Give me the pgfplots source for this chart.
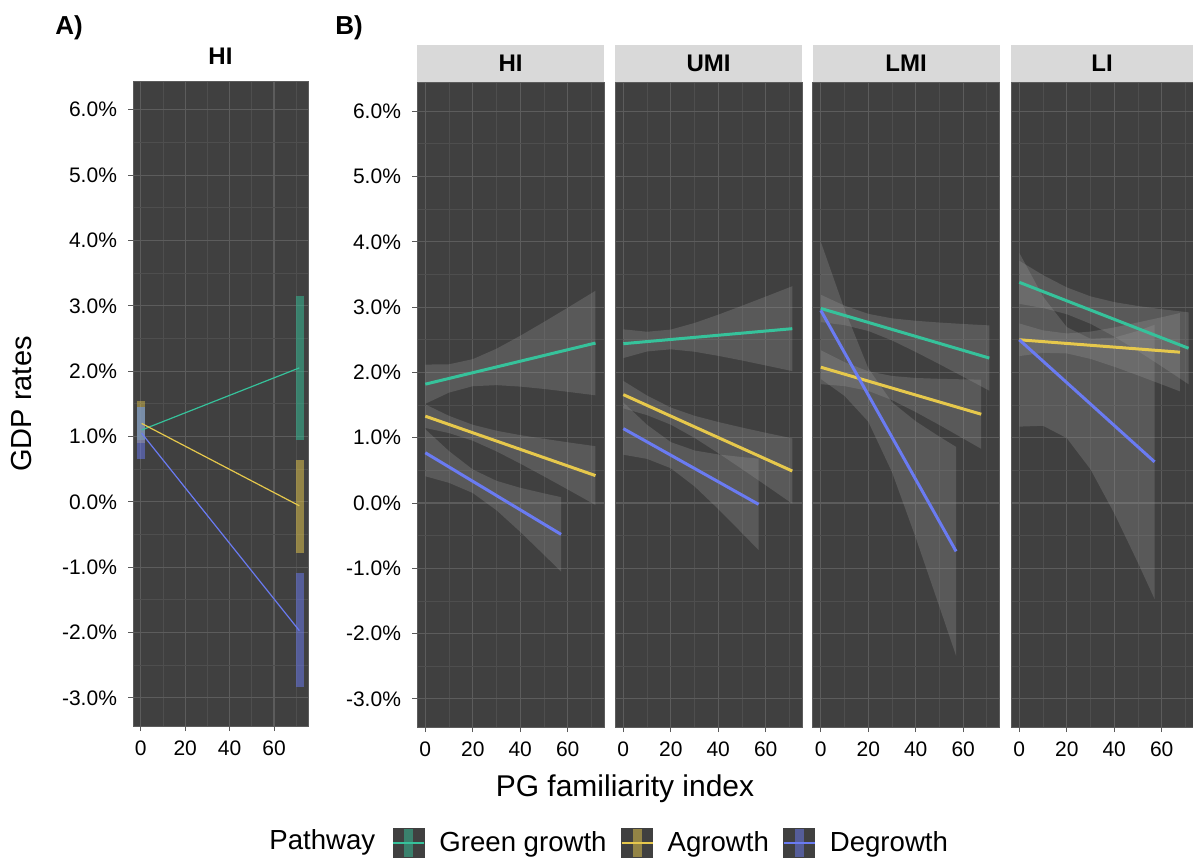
\documentclass[border=0pt]{standalone}
\usepackage{fontspec}
\setmainfont{Liberation Sans}
\usepackage{pgfplots}
\pgfplotsset{compat=1.18}
\definecolor{panelbg}{HTML}{404040}
\definecolor{gridmaj}{HTML}{5C5C5C}
\definecolor{gridmin}{HTML}{4E4E4E}
\definecolor{strip}{HTML}{D9D9D9}
\definecolor{cgreen}{HTML}{36C29B}
\definecolor{cyellow}{HTML}{E6C84C}
\definecolor{cblue}{HTML}{6A7BF2}
\definecolor{ribbon}{HTML}{9A9A9A}
\newcommand{\ticksize}{\fontsize{10.5}{12}\selectfont}
\newcommand{\stripfont}{\fontsize{12}{14}\selectfont\bfseries}
\newcommand{\legfont}{\fontsize{13.8}{16}\selectfont}
\pgfplotsset{
  panel/.style={
    scale only axis,
    xmin=-3.5, xmax=75.3, ymin=-3.43, ymax=6.44,
    axis background/.style={fill=panelbg},
    xtick={0,20,40,60}, xticklabels={0,20,40,60},
    minor xtick={10,30,50,70},
    ytick={-3,-2,-1,0,1,2,3,4,5,6},
    minor ytick={-2.5,-1.5,-0.5,0.5,1.5,2.5,3.5,4.5,5.5},
    xtick pos=bottom, ytick pos=left,
    grid=both,
    major grid style={draw=gridmaj, line width=0.55pt},
    minor grid style={draw=gridmin, line width=0.45pt},
    axis line style={draw=gridmaj, line width=0.4pt},
    tick align=outside, major tick length=2.5pt, minor tick length=0pt,
    tick style={color=black!65, line width=0.5pt},
    xticklabel style={font=\ticksize, text=black, yshift=-1.5pt},
    yticklabel style={font=\ticksize, text=black, xshift=-2pt},
    every axis title shift=0pt,
  },
  ylab/.style={yticklabels={-3.0\%,-2.0\%,-1.0\%,0.0\%,1.0\%,2.0\%,3.0\%,4.0\%,5.0\%,6.0\%}},
  noylab/.style={yticklabels={}, ytick style={draw=none}},
  strip/.style={title={#1}, title style={at={(0.5,1)}, anchor=south, fill=strip, minimum width=93.5pt, minimum height=18.2pt, inner sep=0pt, font=\stripfont, yshift=0.2pt}},
  rib/.style={fill=ribbon, fill opacity=0.28, draw=none, forget plot},
  ln/.style={line width=1.5pt, forget plot},
  key/.style={legend image code/.code={
    \fill[panelbg] (0pt,-7.25pt) rectangle (15.5pt,7.25pt);
    \draw[#1, draw opacity=0.5, line width=4.5pt] (7.75pt,-7pt) -- (7.75pt,7pt);
    \draw[#1, line width=1pt] (0pt,0pt) -- (15.5pt,0pt);}},
}
\begin{document}
\begin{tikzpicture}
\path[use as bounding box] (0,0) rectangle (596.5pt,429pt);

% Panel labels and titles
\node[anchor=west, inner sep=0pt, font=\fontsize{13}{15}\selectfont\bfseries] at (27.5pt,415pt) {A)};
\node[anchor=west, inner sep=0pt, font=\fontsize{13}{15}\selectfont\bfseries] at (167.5pt,415pt) {B)};
\node[rotate=90, font=\fontsize{14.5}{17}\selectfont] at (11pt,227pt) {GDP rates};
\node[font=\fontsize{15}{18}\selectfont] at (312.5pt,34.5pt) {PG familiarity index};
\node[anchor=west, inner sep=0pt, font=\legfont] at (134.5pt,7.8pt) {Pathway};

% ---------- Panel A ----------
\begin{axis}[panel, ylab, at={(66.5pt,388.5pt)}, anchor=north west, width=87.5pt, height=322.5pt,
  title={HI}, title style={at={(0.5,1)}, anchor=south, minimum height=24pt, inner sep=0pt, font=\stripfont}]
\addplot[draw=cgreen, draw opacity=0.5, line width=3.8pt, forget plot] coordinates {(0,0.95) (0,1.45)};
\addplot[draw=cyellow, draw opacity=0.45, line width=3.8pt, forget plot] coordinates {(0,0.9) (0,1.55)};
\addplot[draw=cblue, draw opacity=0.5, line width=3.8pt, forget plot] coordinates {(0,0.65) (0,1.45)};
\addplot[draw=cgreen, draw opacity=0.5, line width=4pt, forget plot] coordinates {(71.6,0.95) (71.6,3.15)};
\addplot[draw=cyellow, draw opacity=0.5, line width=4pt, forget plot] coordinates {(71.6,-0.78) (71.6,0.64)};
\addplot[draw=cblue, draw opacity=0.5, line width=4pt, forget plot] coordinates {(71.6,-2.83) (71.6,-1.09)};
\addplot[draw=cgreen, line width=0.6pt, forget plot] coordinates {(0.4,1.10) (71.4,2.05)};
\addplot[draw=cyellow, line width=0.6pt, forget plot] coordinates {(0.4,1.20) (71.4,-0.06)};
\addplot[draw=cblue, line width=0.6pt, forget plot] coordinates {(0.4,1.05) (71.4,-1.97)};
\end{axis}

% ---------- Panel B: HI ----------
\begin{axis}[panel, ylab, strip={HI}, at={(208.5pt,387.75pt)}, anchor=north west, width=93.5pt, height=322.25pt,
  legend style={at={(-0.1337,-0.1795)}, anchor=west, draw=none, fill=none, inner xsep=0pt,
    font=\legfont, legend columns=3, nodes={inner xsep=0pt},
    /tikz/every odd column/.append style={column sep=7pt},
    /tikz/every even column/.append style={column sep=7pt}},
  legend cell align=left]
\addplot[rib] coordinates {(0,2.12)(10,2.125)(20,2.203)(30,2.363)(40,2.561)(50,2.773)(60,2.991)(71.7,3.25)
  (71.7,1.65)(60,1.703)(50,1.747)(40,1.783)(30,1.805)(20,1.789)(10,1.691)(0,1.52)} --cycle;
\addplot[rib] coordinates {(0,1.51)(10,1.335)(20,1.198)(30,1.107)(40,1.040)(50,0.984)(60,0.930)(71.7,0.87)
  (71.7,-0.03)(60,0.208)(50,0.408)(40,0.604)(30,0.791)(20,0.954)(10,1.071)(0,1.15)} --cycle;
\addplot[rib] coordinates {(0,1.13)(10,0.795)(20,0.514)(30,0.340)(40,0.233)(50,0.148)(57.2,0.09)
  (57.2,-1.05)(50,-0.793)(40,-0.441)(30,-0.111)(20,0.153)(10,0.309)(0,0.41)} --cycle;
\addplot[ln, draw=cgreen] coordinates {(0,1.82)(71.7,2.45)};
\addplot[ln, draw=cyellow] coordinates {(0,1.33)(71.7,0.42)};
\addplot[ln, draw=cblue] coordinates {(0,0.77)(57.2,-0.48)};
\addlegendimage{key=cgreen}
\addlegendentry{Green growth}
\addlegendimage{key=cyellow}
\addlegendentry{Agrowth}
\addlegendimage{key=cblue}
\addlegendentry{Degrowth}
\end{axis}

% ---------- Panel B: UMI ----------
\begin{axis}[panel, noylab, strip={UMI}, at={(307.5pt,387.75pt)}, anchor=north west, width=93.5pt, height=322.25pt]
\addplot[rib] coordinates {(0,2.66)(10,2.623)(20,2.656)(30,2.757)(40,2.884)(50,3.021)(60,3.161)(71.2,3.32)
  (71.2,2.02)(60,2.107)(50,2.183)(40,2.254)(30,2.317)(20,2.354)(10,2.321)(0,2.22)} --cycle;
\addplot[rib] coordinates {(0,1.87)(10,1.646)(20,1.462)(30,1.336)(40,1.241)(50,1.156)(60,1.076)(71.2,0.99)
  (71.2,-0.01)(60,0.272)(50,0.520)(40,0.765)(30,0.998)(20,1.200)(10,1.346)(0,1.45)} --cycle;
\addplot[rib] coordinates {(0,1.54)(10,1.198)(20,0.933)(30,0.805)(40,0.744)(50,0.704)(57,0.68)
  (57,-0.72)(50,-0.459)(40,-0.092)(30,0.255)(20,0.533)(10,0.676)(0,0.74)} --cycle;
\addplot[ln, draw=cgreen] coordinates {(0,2.44)(71.2,2.67)};
\addplot[ln, draw=cyellow] coordinates {(0,1.66)(71.2,0.49)};
\addplot[ln, draw=cblue] coordinates {(0,1.14)(57,-0.02)};
\end{axis}

% ---------- Panel B: LMI ----------
\begin{axis}[panel, noylab, strip={LMI}, at={(406.25pt,387.75pt)}, anchor=north west, width=93.5pt, height=322.25pt]
\addplot[rib] coordinates {(0,3.19)(10,3.022)(20,2.897)(30,2.828)(40,2.791)(50,2.764)(60,2.742)(71,2.72)
  (71,1.72)(60,1.934)(50,2.126)(40,2.313)(30,2.490)(20,2.635)(10,2.724)(0,2.77)} --cycle;
\addplot[rib] coordinates {(0,2.34)(10,2.158)(20,2.017)(30,1.946)(40,1.915)(50,1.902)(60,1.894)(67.6,1.89)
  (67.6,0.83)(60,0.988)(50,1.194)(40,1.393)(30,1.576)(20,1.717)(10,1.790)(0,1.82)} --cycle;
\addplot[rib] coordinates {(0,4.00)(10,2.966)(20,2.064)(30,1.543)(40,1.252)(50,1.016)(57,0.86)
  (57,-2.34)(50,-1.590)(40,-0.532)(30,0.473)(20,1.246)(10,1.640)(0,1.90)} --cycle;
\addplot[ln, draw=cgreen] coordinates {(0,2.98)(71,2.22)};
\addplot[ln, draw=cyellow] coordinates {(0,2.08)(67.6,1.36)};
\addplot[ln, draw=cblue] coordinates {(0,2.95)(57,-0.74)};
\end{axis}

% ---------- Panel B: LI ----------
\begin{axis}[panel, noylab, strip={LI}, title style={minimum width=91pt}, xmax=73.2, at={(505.5pt,387.75pt)}, anchor=north west, width=91pt, height=322.25pt]
\addplot[rib] coordinates {(0,3.71)(10,3.490)(20,3.302)(30,3.165)(40,3.077)(50,3.017)(60,2.968)(71.3,2.92)
  (71.3,1.82)(60,2.092)(50,2.327)(40,2.549)(30,2.745)(20,2.892)(10,2.986)(0,3.05)} --cycle;
\addplot[rib] coordinates {(0,2.75)(10,2.644)(20,2.597)(30,2.625)(40,2.689)(50,2.766)(60,2.845)(67.7,2.91)
  (67.7,1.71)(60,1.817)(50,1.954)(40,2.087)(30,2.207)(20,2.291)(10,2.300)(0,2.25)} --cycle;
\addplot[rib] coordinates {(0,3.83)(10,3.161)(20,2.694)(30,2.516)(40,2.533)(50,2.636)(57,2.73)
  (57,-1.47)(50,-0.916)(40,-0.157)(30,0.516)(20,0.994)(10,1.183)(0,1.17)} --cycle;
\addplot[ln, draw=cgreen] coordinates {(0,3.38)(71.3,2.37)};
\addplot[ln, draw=cyellow] coordinates {(0,2.50)(67.7,2.31)};
\addplot[ln, draw=cblue] coordinates {(0,2.50)(57,0.63)};
\end{axis}
\end{tikzpicture}
\end{document}
